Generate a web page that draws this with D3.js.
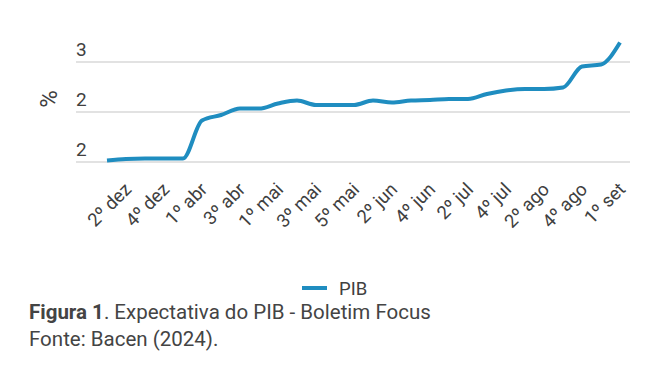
<!DOCTYPE html>
<html>
<head>
<meta charset="utf-8">
<script src="https://cdn.jsdelivr.net/npm/d3@7"></script>
<style>
  html, body { margin: 0; padding: 0; background: #fff; }
  svg { display: block; font-family: Roboto, "Noto Sans", sans-serif; }
</style>
</head>
<body>
<svg id="chart" width="666" height="371"></svg>
<script>
// ---- data ----
const categories = [
  "1º dez", "2º dez", "3º dez", "4º dez", "5º dez",
  "1º abr", "2º abr", "3º abr", "4º abr",
  "1º mai", "2º mai", "3º mai", "4º mai", "5º mai",
  "1º jun", "2º jun", "3º jun", "4º jun",
  "1º jul", "2º jul", "3º jul", "4º jul",
  "1º ago", "2º ago", "3º ago", "4º ago", "5º ago",
  "1º set"
];
const pibValues = [
  1.51, 1.525, 1.53, 1.53, 1.53,
  1.91, 1.965, 2.03, 2.03,
  2.08, 2.11, 2.065, 2.065, 2.065,
  2.11, 2.09, 2.11, 2.115,
  2.125, 2.125, 2.175, 2.21,
  2.225, 2.225, 2.24, 2.45, 2.47,
  2.69
];
const yTickValues = [1.5, 2.0, 2.5];
const seriesName = "PIB";
const yAxisTitle = "%";
const captionBold = "Figura 1";
const captionRest = ". Expectativa do PIB - Boletim Focus";
const sourceText = "Fonte: Bacen (2024).";

// ---- layout ----
const svg = d3.select("#chart");
const plotLeft = 76, plotRight = 630;
const x = d3.scalePoint().domain(categories).range([107, 620]);
const y = d3.scaleLinear().domain([1.5, 2.5]).range([161.5, 61.5]);
const textColor = "#404040";
const lineColor = "#1f8dc0";

// gridlines + y tick labels
const yAxis = d3.axisLeft(y).tickValues(yTickValues)
  .tickSize(-(plotRight - plotLeft)).tickFormat(d => d3.format(".0f")(Math.round(d + 1e-9)));
const gy = svg.append("g").attr("transform", `translate(${plotLeft},0)`).call(yAxis);
gy.select(".domain").remove();
gy.selectAll(".tick line").attr("stroke", "#d9d9d9").attr("stroke-width", 1.6);
gy.selectAll(".tick text")
  .attr("x", 0).attr("y", -6).attr("dy", 0).attr("text-anchor", "start")
  .attr("fill", textColor).style("font-size", "19px")
  .style("font-family", "Roboto, sans-serif");

// y axis title
svg.append("text")
  .attr("transform", "translate(57,99) rotate(-90)")
  .attr("text-anchor", "middle")
  .attr("fill", textColor).style("font-size", "24px")
  .text(yAxisTitle);

// x axis labels (every other category)
const xAxis = d3.axisBottom(x)
  .tickValues(categories.filter((d, i) => i % 2 === 1))
  .tickSize(0);
const gx = svg.append("g").attr("transform", "translate(0,161.5)").call(xAxis);
gx.select(".domain").remove();
gx.selectAll(".tick text")
  .attr("y", 0).attr("dy", 0)
  .attr("text-anchor", "end")
  .attr("transform", "translate(6,29) rotate(-45)")
  .attr("fill", textColor).style("font-size", "18.5px")
  .style("font-family", "Roboto, sans-serif");

// line
const line = d3.line()
  .x((d, i) => x(categories[i]))
  .y(d => y(d))
  .curve(d3.curveMonotoneX);
svg.append("path")
  .datum(pibValues)
  .attr("d", line)
  .attr("fill", "none")
  .attr("stroke", lineColor)
  .attr("stroke-width", 4)
  .attr("stroke-linejoin", "round");

// legend
svg.append("line")
  .attr("x1", 302).attr("x2", 327).attr("y1", 288).attr("y2", 288)
  .attr("stroke", lineColor).attr("stroke-width", 4);
svg.append("text")
  .attr("x", 339).attr("y", 294.5)
  .attr("fill", textColor).style("font-size", "18.5px")
  .text(seriesName);

// caption
const cap = svg.append("text").attr("x", 29).attr("y", 318.5)
  .attr("fill", "#444").style("font-size", "20.5px");
cap.append("tspan").style("font-weight", "bold").text(captionBold);
cap.append("tspan").text(captionRest);
svg.append("text").attr("x", 29).attr("y", 345.5)
  .attr("fill", "#444").style("font-size", "20.5px")
  .text(sourceText);
</script>
</body>
</html>
